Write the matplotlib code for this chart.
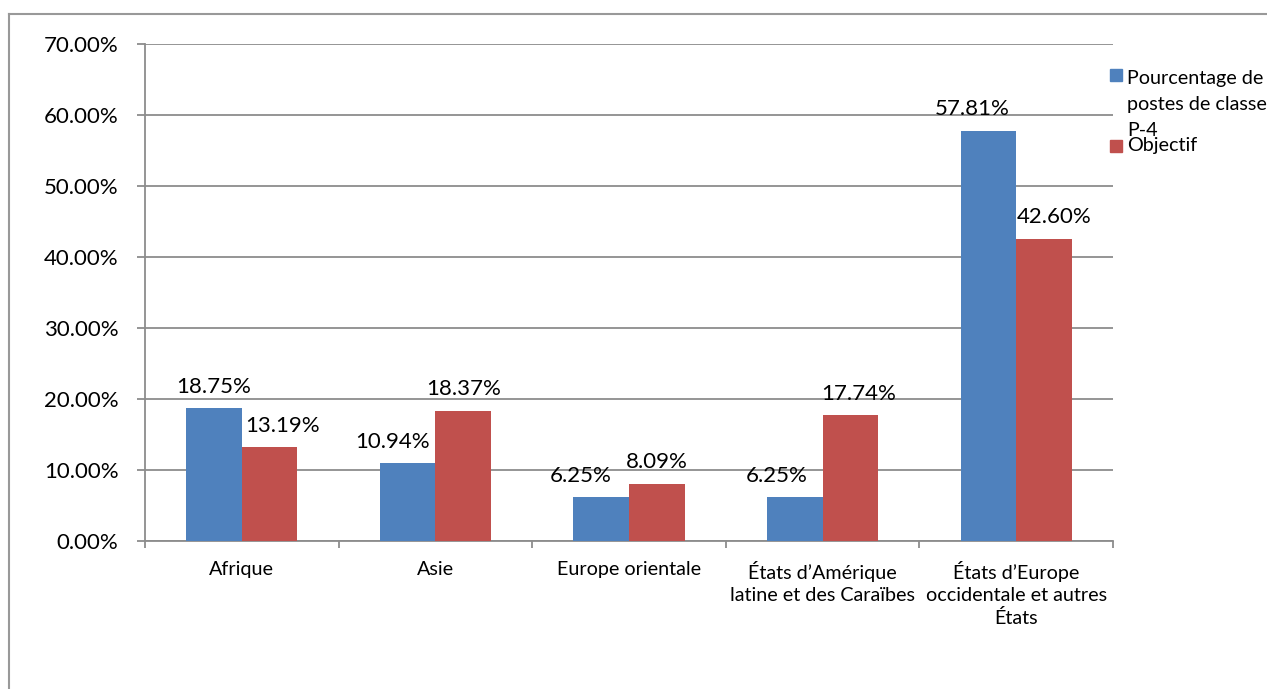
import matplotlib.pyplot as plt
import numpy as np
from matplotlib.lines import Line2D
from matplotlib.patches import Rectangle
from matplotlib.ticker import FuncFormatter

plt.rcParams['font.family'] = ['Lato', 'DejaVu Sans']

categories = ["Afrique", "Asie", "Europe orientale",
              "États d’Amérique\nlatine et des Caraïbes",
              "États d’Europe\noccidentale et autres\nÉtats"]
pct_p4 = [18.75, 10.94, 6.25, 6.25, 57.81]
objectif = [13.19, 18.37, 8.09, 17.74, 42.60]
series_names = ["Pourcentage de\npostes de classe\nP-4", "Objectif"]

blue = '#4F81BD'
red = '#C0504D'
gray = '#8c8c8c'

# label nudges (points) so neighbouring labels don't collide, like Excel does
blue_dx = [0, -11, -15, -13, -12]
red_dx = [9, 0, 0, 6, 7]

fig = plt.figure(figsize=(12.67, 6.89), dpi=100)
ax = fig.add_axes([0.1144, 0.2148, 0.7641, 0.7213])

x = np.arange(len(categories))
w = 0.287
b1 = ax.bar(x - w / 2, pct_p4, w, color=blue, zorder=3)
b2 = ax.bar(x + w / 2, objectif, w, color=red, zorder=3)

for rect, v, dx in zip(b1, pct_p4, blue_dx):
    ax.annotate(f"{v:.2f}%", (rect.get_x() + rect.get_width() / 2, v),
                xytext=(dx, 8), textcoords='offset points',
                ha='center', va='bottom', fontsize=16)
for rect, v, dx in zip(b2, objectif, red_dx):
    ax.annotate(f"{v:.2f}%", (rect.get_x() + rect.get_width() / 2, v),
                xytext=(dx, 8), textcoords='offset points',
                ha='center', va='bottom', fontsize=16)

ax.set_xlim(-0.5, 4.5)
ax.set_ylim(0, 70)
ax.set_yticks(np.arange(0, 71, 10))
ax.yaxis.set_major_formatter(FuncFormatter(lambda v, p: f"{v:.2f}%"))
ax.yaxis.grid(True, color=gray, linewidth=1.3, zorder=0)
ax.tick_params(axis='y', length=6, width=1.3, color=gray, pad=13, labelsize=16)

ax.set_xticks(np.arange(-0.5, 5, 1))
ax.set_xticklabels([])
ax.set_xticks(x, minor=True)
ax.set_xticklabels(categories, minor=True, fontsize=14.2, linespacing=1.35)
ax.tick_params(axis='x', which='major', length=5, width=1.3, color=gray)
ax.tick_params(axis='x', which='minor', length=0, pad=14.5)

for s in ['top', 'right']:
    ax.spines[s].set_visible(False)
for s in ['left', 'bottom']:
    ax.spines[s].set_color(gray)
    ax.spines[s].set_linewidth(1.3)

# legend drawn by hand (Excel style, handle aligned with first line)
fig.patches.append(Rectangle((1110 / 1267, 1 - 81 / 689), 12 / 1267, 12 / 689,
                             transform=fig.transFigure, color=blue))
fig.patches.append(Rectangle((1110 / 1267, 1 - 152 / 689), 12 / 1267, 12 / 689,
                             transform=fig.transFigure, color=red))
for i, line in enumerate(series_names[0].split('\n')):
    fig.text(1127 / 1267, 1 - (84 + 26 * i) / 689, line, fontsize=14.2,
             va='baseline', ha='left')
fig.text(1127 / 1267, 1 - 151 / 689, series_names[1], fontsize=14.2,
         va='baseline', ha='left')

# outer chart border
fig.add_artist(Line2D([9 / 1267, 1], [1 - 14 / 689, 1 - 14 / 689],
                      transform=fig.transFigure, color='#999999', linewidth=1.5))
fig.add_artist(Line2D([9 / 1267, 9 / 1267], [0, 1 - 14 / 689],
                      transform=fig.transFigure, color='#999999', linewidth=1.5))

fig.savefig('out.png', dpi=100)
